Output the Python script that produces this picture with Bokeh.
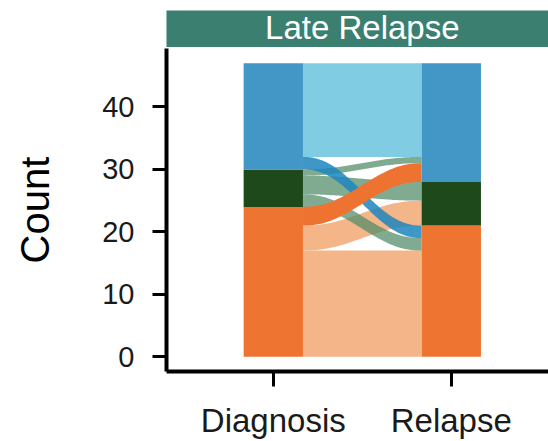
import numpy as np
from bokeh.plotting import figure
from bokeh.layouts import column
from bokeh.models import Range1d, FixedTicker
from bokeh.core.properties import value
from bokeh.embed import file_html
from bokeh.resources import INLINE

# ---- data ----
axes_labels = ["Diagnosis", "Relapse"]
states = ["orange", "green", "blue"]           # bottom -> top
diagnosis_counts = [24, 6, 17]
relapse_counts = [21, 7, 19]
flow_from = ["blue", "blue", "green", "green", "green", "orange", "orange", "orange"]
flow_to = ["blue", "orange", "blue", "green", "orange", "blue", "green", "orange"]
flow_counts = [15, 2, 1, 3, 2, 3, 4, 17]
facet_title = "Late Relapse"
y_ticks = [0, 10, 20, 30, 40]

stratum_colors = {"blue": "#4397c7", "green": "#1e4a1b", "orange": "#ee7531"}
flow_styles = {
    ("blue", "blue"): ("#80cce3", 1.0),
    ("orange", "orange"): ("#f4b688", 1.0),
    ("orange", "green"): ("#f4b688", 1.0),
    ("green", "blue"): ("#4f8a66", 0.72),
    ("green", "green"): ("#4f8a66", 0.72),
    ("green", "orange"): ("#4f8a66", 0.72),
    ("blue", "orange"): ("#1d85be", 0.85),
    ("orange", "blue"): ("#ee7330", 1.0),
}
draw_order = [("blue", "blue"), ("orange", "orange"), ("orange", "green"),
              ("green", "blue"), ("green", "green"), ("green", "orange"),
              ("blue", "orange"), ("orange", "blue")]

FONT = "Liberation Sans"
W = 548
LEFT = 166
XR = (0.4, 0.4 + (W - LEFT) / 178)
BAR_W = 1 / 3

# ---- stacking ----
def stack(counts):
    bottoms, tops, b = {}, {}, 0
    for s, c in zip(states, counts):
        bottoms[s], tops[s] = b, b + c
        b += c
    return bottoms, tops

db, dt = stack(diagnosis_counts)
rb, rt = stack(relapse_counts)

order_top = list(reversed(states))  # blue, green, orange
left_pos, right_pos = {}, {}
for s in order_top:
    cur = dt[s]
    for d in order_top:
        for f, t, c in zip(flow_from, flow_to, flow_counts):
            if f == s and t == d:
                left_pos[(f, t)] = (cur - c, cur)
                cur -= c
for d in order_top:
    cur = rt[d]
    for s in order_top:
        for f, t, c in zip(flow_from, flow_to, flow_counts):
            if f == s and t == d:
                right_pos[(f, t)] = (cur - c, cur)
                cur -= c

# ---- strip figure ----
strip = figure(width=W, height=47, x_range=Range1d(*XR), y_range=Range1d(0, 1),
               output_backend="svg", toolbar_location=None,
               x_axis_location=None, y_axis_location=None,
               min_border_left=LEFT, min_border_right=0, min_border_top=10, min_border_bottom=0)
strip.background_fill_color = "#3b7f71"
strip.border_fill_color = "white"
strip.outline_line_color = None
strip.grid.visible = False
strip.text(x=[1.5], y=[0.55], text=[facet_title], text_color="white",
           text_font=value(FONT), text_font_size="33px", text_align="center",
           text_baseline="middle")

# ---- main figure ----
p = figure(width=W, height=394, x_range=Range1d(*XR), y_range=Range1d(-2.35, 49.35),
           output_backend="svg", toolbar_location=None,
           min_border_left=LEFT, min_border_right=0, min_border_top=1, min_border_bottom=70)
p.outline_line_color = None
p.grid.visible = False
p.background_fill_color = "white"
p.border_fill_color = "white"

x0, x1 = 1 + BAR_W / 2, 2 - BAR_W / 2
t = np.linspace(0, 1, 80)
s = t * t * t * (t * (6 * t - 15) + 10) * 0.5 + (3 * t * t - 2 * t ** 3) * 0.5
xs_curve = x0 + (x1 - x0) * t
xs, ys, colors, alphas = [], [], [], []
for key in draw_order:
    lb, lt = left_pos[key]
    r_b, r_t = right_pos[key]
    top = lt + (r_t - lt) * s
    bot = lb + (r_b - lb) * s
    xs.append(np.concatenate([xs_curve, xs_curve[::-1]]).tolist())
    ys.append(np.concatenate([top, bot[::-1]]).tolist())
    colors.append(flow_styles[key][0])
    alphas.append(flow_styles[key][1])
p.patches(xs=xs, ys=ys, fill_color=colors, fill_alpha=alphas, line_color=None)

# strata
for xi, (bb, tt) in zip([1, 2], [(db, dt), (rb, rt)]):
    p.vbar(x=[xi] * 3, width=BAR_W, bottom=[bb[s_] for s_ in states],
           top=[tt[s_] for s_ in states], fill_color=[stratum_colors[s_] for s_ in states],
           line_color=None)

# axes
p.yaxis.ticker = FixedTicker(ticks=y_ticks)
p.xaxis.ticker = FixedTicker(ticks=[1, 2])
p.xaxis.major_label_overrides = {1: axes_labels[0], 2: axes_labels[1]}
for ax in (p.xaxis[0], p.yaxis[0]):
    ax.axis_line_width = 4
    ax.axis_line_color = "black"
    ax.major_tick_line_width = 3
    ax.major_tick_line_color = "black"
    ax.major_tick_in = 0
    ax.minor_tick_line_color = None
    ax.major_label_text_font = FONT
    ax.major_label_text_color = "#1a1a1a"
p.yaxis.major_tick_out = 14
p.yaxis.major_label_standoff = 18
p.yaxis.major_label_text_font_size = "29px"
p.yaxis.axis_label = "Count"
p.yaxis.axis_label_text_font = FONT
p.yaxis.axis_label_text_font_size = "40px"
p.yaxis.axis_label_text_font_style = "normal"
p.yaxis.axis_label_text_color = "black"
p.yaxis.axis_label_standoff = 42
p.xaxis.major_tick_out = 15
p.xaxis.major_label_standoff = 15
p.xaxis.major_label_text_font_size = "33px"

layout = column(strip, p, spacing=0)
open("out.html", "w").write(file_html(layout, INLINE))
